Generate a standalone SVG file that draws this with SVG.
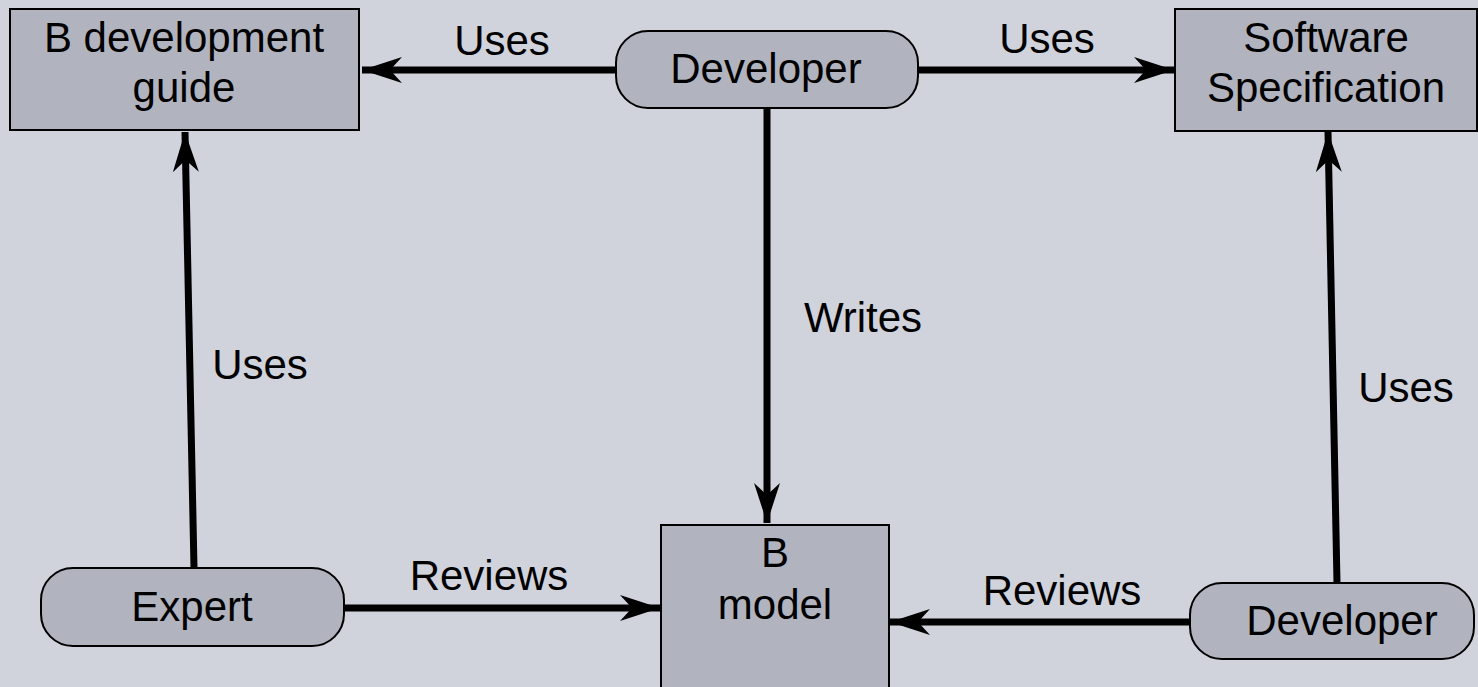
<svg xmlns="http://www.w3.org/2000/svg" width="1478" height="687" viewBox="0 0 1478 687">
  <defs>
    <marker id="head" markerUnits="userSpaceOnUse" viewBox="-44 -16 46 32" refX="0" refY="0" markerWidth="46" markerHeight="32" orient="auto" overflow="visible">
      <path d="M0,0 L-40,-13 L-28,0 L-40,13 Z" fill="#000"/>
    </marker>
    <style>
      .box { fill: #b1b4be; stroke: #000; stroke-width: 2; }
      .lbl { font-family: "Liberation Sans", Arial, sans-serif; font-size: 42px; fill: #000; text-anchor: middle; }
      .edge { stroke: #000; stroke-width: 7; fill: none; marker-end: url(#head); }
    </style>
  </defs>

  <rect width="1478" height="687" fill="#d0d3db"/>

  <g id="connectors">
    <line class="edge" x1="616" y1="70" x2="362" y2="70"/>
    <line class="edge" x1="918" y1="70" x2="1174" y2="70"/>
    <line class="edge" x1="767" y1="108" x2="767" y2="523"/>
    <line class="edge" x1="194" y1="568" x2="185" y2="132"/>
    <line class="edge" x1="344" y1="608" x2="660" y2="608"/>
    <line class="edge" x1="1337" y1="583" x2="1328" y2="132"/>
    <line class="edge" x1="1190" y1="622" x2="890" y2="622"/>
    <text class="lbl" x="502" y="55">Uses</text>
    <text class="lbl" x="1047" y="53">Uses</text>
    <text class="lbl" x="863" y="332">Writes</text>
    <text class="lbl" x="260" y="379">Uses</text>
    <text class="lbl" x="1406" y="402">Uses</text>
    <text class="lbl" x="489" y="590">Reviews</text>
    <text class="lbl" x="1062" y="605">Reviews</text>
  </g>

  <g id="b-dev-guide">
    <rect class="box" x="10" y="9" width="349" height="121"/>
    <text class="lbl" x="184" y="52">B development</text>
    <text class="lbl" x="184" y="102">guide</text>
  </g>

  <g id="developer-top">
    <rect class="box" x="616" y="31" width="302" height="77" rx="32" ry="32"/>
    <text class="lbl" x="766" y="83">Developer</text>
  </g>

  <g id="software-spec">
    <rect class="box" x="1175" y="9" width="302" height="122"/>
    <text class="lbl" x="1326" y="52">Software</text>
    <text class="lbl" x="1326" y="102">Specification</text>
  </g>

  <g id="expert">
    <rect class="box" x="41" y="568" width="303" height="78" rx="32" ry="32"/>
    <text class="lbl" x="192" y="621">Expert</text>
  </g>

  <g id="b-model">
    <rect class="box" x="661" y="525" width="228" height="180"/>
    <text class="lbl" x="775" y="567">B</text>
    <text class="lbl" x="775" y="619">model</text>
  </g>

  <g id="developer-bottom">
    <rect class="box" x="1190" y="583" width="284" height="76" rx="32" ry="32"/>
    <text class="lbl" x="1342" y="635">Developer</text>
  </g>
</svg>
